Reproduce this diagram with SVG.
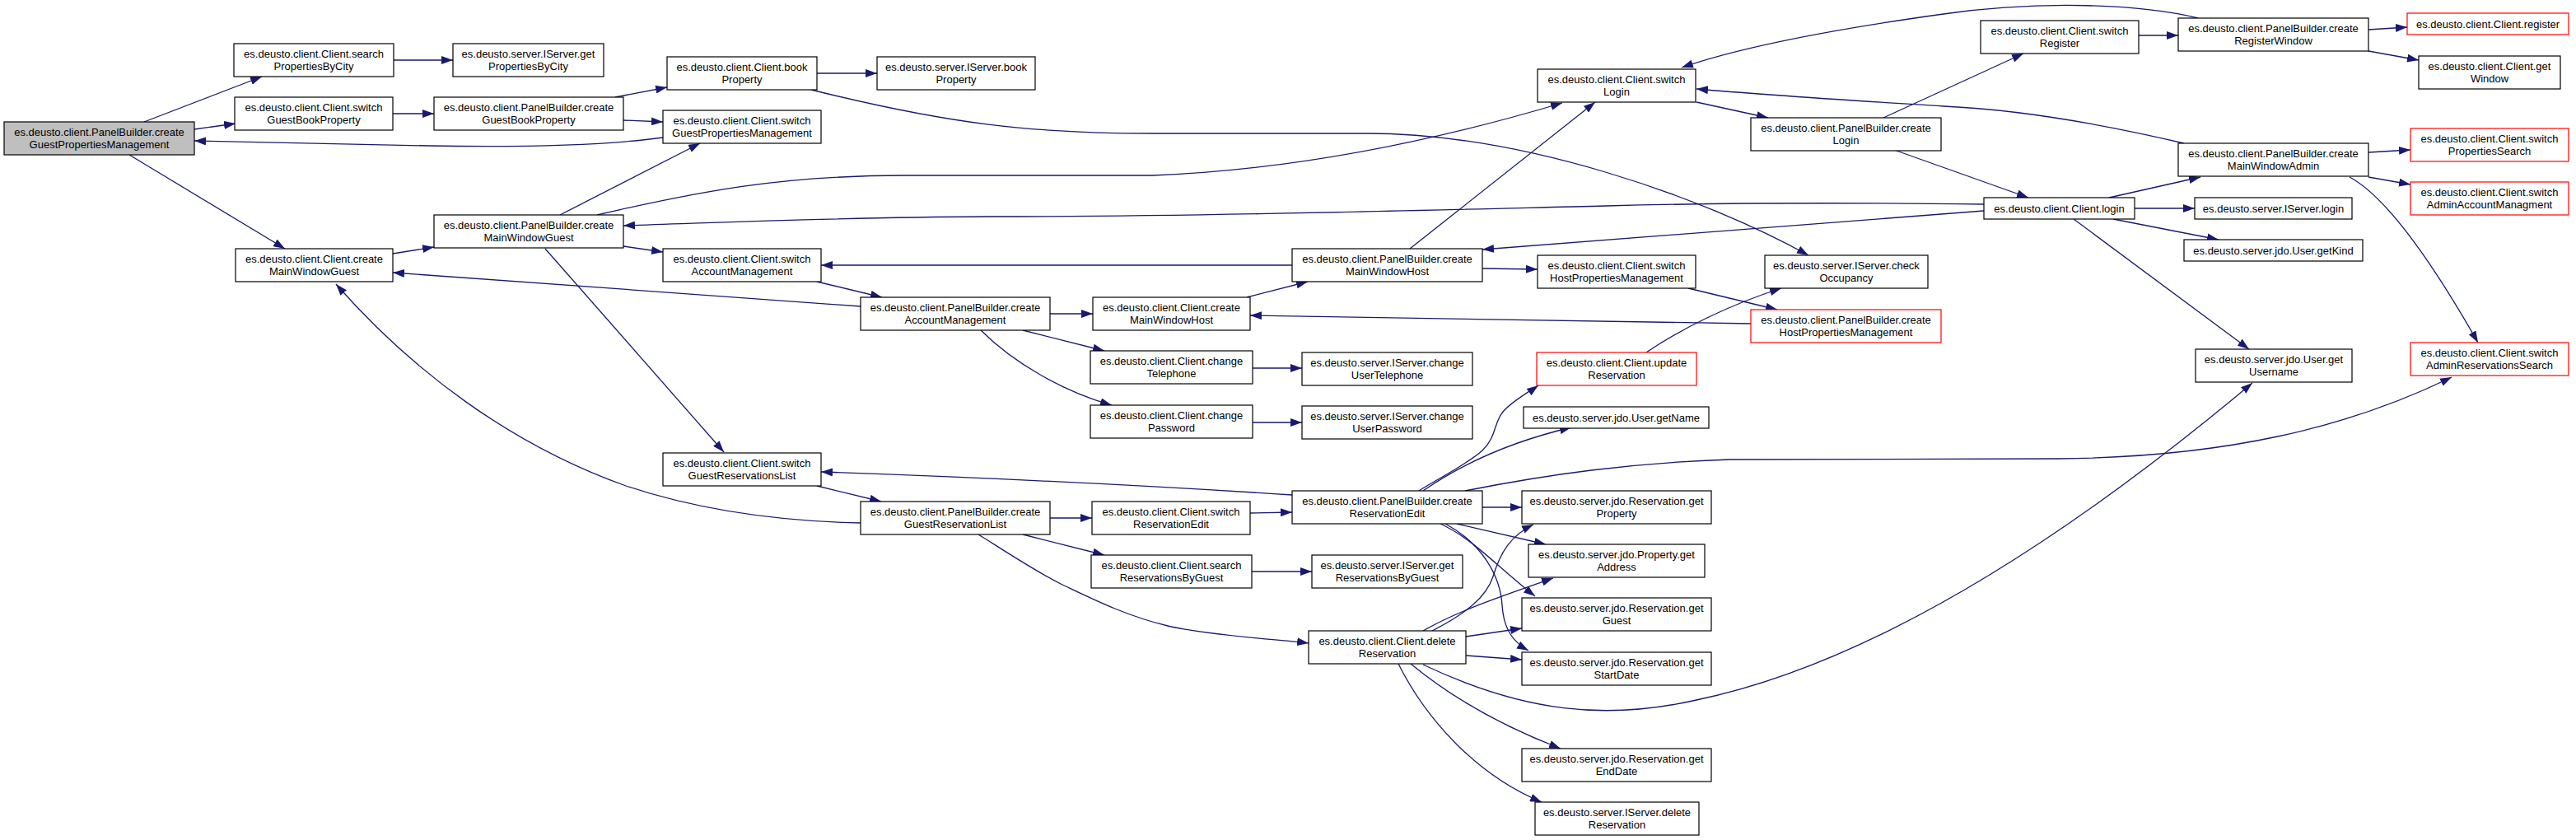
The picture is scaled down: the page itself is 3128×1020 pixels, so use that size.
<svg xmlns="http://www.w3.org/2000/svg" width="3128" height="1020" viewBox="0 0 3128 1020">
<defs>
<style>
.node rect{fill:#fff;stroke:#000;stroke-width:1.2}
.node.red rect{stroke:#ff0000}
.node.root rect{fill:#bfbfbf}
.node text{font-family:"Liberation Sans",Arial,sans-serif;font-size:13px;fill:#000;text-anchor:middle}
#edges path{fill:none;stroke:#191970;stroke-width:1.3;marker-end:url(#ah)}
</style>
<marker id="ah" markerUnits="userSpaceOnUse" markerWidth="14" markerHeight="10" refX="14" refY="5" orient="auto"><path d="M0,0 L14,5 L0,10 z" fill="#191970"/></marker>
</defs>
<rect width="3128" height="1020" fill="#fff"/>
<g id="edges">
<path d="M175,148 L318,93"/>
<path d="M236,157 L286,150"/>
<path d="M157,188 L346,302"/>
<path d="M805,167 C740,176 640,179 520,177 C400,175 300,173 236,171"/>
<path d="M478,73 L550,73"/>
<path d="M477,138 L527,138"/>
<path d="M747,118 L810,106"/>
<path d="M757,146 L805,148"/>
<path d="M992,89 L1065,89"/>
<path d="M985,109 C1150,150 1250,162 1400,162 L1660,162 C1850,162 2070,240 2196,310"/>
<path d="M477,308 L527,300"/>
<path d="M680,261 L850,174"/>
<path d="M725,261 C850,232 950,213 1100,213 L1400,213 C1600,205 1780,160 1897,125"/>
<path d="M2409,248 C2250,246 2100,246 1950,250 C1700,256 1450,263 1200,263 C1000,264 860,271 757,274"/>
<path d="M2409,256 L1800,303"/>
<path d="M757,299 L805,306"/>
<path d="M662,302 L879,549"/>
<path d="M1045,372 L477,331"/>
<path d="M1045,635 C950,633 850,620 760,590 C620,540 500,450 408,345"/>
<path d="M1569,322 L997,322"/>
<path d="M992,342 L1071,361"/>
<path d="M1275,381 L1327,381"/>
<path d="M1242,401 L1341,426"/>
<path d="M1191,401 C1230,440 1290,475 1350,492"/>
<path d="M1514,361 L1588,342"/>
<path d="M2126,393 C1900,390 1700,385 1518,383"/>
<path d="M1712,302 L1937,124"/>
<path d="M1800,326 L1867,327"/>
<path d="M2050,350 L2158,376"/>
<path d="M2060,124 L2147,143"/>
<path d="M2287,143 L2457,65"/>
<path d="M2300,182 L2463,240"/>
<path d="M2669,22 C2600,5 2480,0 2360,17 C2230,35 2120,55 2042,82"/>
<path d="M2652,174 C2550,150 2450,133 2360,129 C2250,122 2150,116 2060,108"/>
<path d="M2597,43 L2645,43"/>
<path d="M2876,36 L2923,33"/>
<path d="M2876,62 L2937,73"/>
<path d="M2561,240 L2672,215"/>
<path d="M2592,253 L2665,253"/>
<path d="M2566,266 L2694,291"/>
<path d="M2518,266 L2731,424"/>
<path d="M2876,185 L2927,182"/>
<path d="M2876,215 L2927,224"/>
<path d="M2853,215 C2900,240 2960,330 3009,416"/>
<path d="M1999,428 C2040,400 2100,370 2163,350"/>
<path d="M1521,447 L1581,447"/>
<path d="M1521,513 L1581,513"/>
<path d="M1569,601 C1400,590 1200,580 997,573"/>
<path d="M992,590 L1070,609"/>
<path d="M1275,629 L1326,629"/>
<path d="M1242,649 L1341,674"/>
<path d="M1188,649 C1205,659 1252,691 1290,710 C1328,728 1368,748 1418,760 C1468,772 1560,777 1589,781"/>
<path d="M1518,623 L1569,622"/>
<path d="M1520,694 L1593,694"/>
<path d="M1723,596 C1736,587 1783,563 1800,547 C1817,531 1814,513 1825,500 C1836,487 1861,473 1868,468"/>
<path d="M1728,596 C1780,560 1840,535 1908,519"/>
<path d="M1779,596 C1880,576 1980,562 2100,558 L2500,557 C2700,555 2850,520 2977,458"/>
<path d="M1800,616 L1848,616"/>
<path d="M1769,636 L1877,661"/>
<path d="M1749,636 C1790,655 1820,690 1864,724"/>
<path d="M1755,636 C1800,660 1822,700 1824,735 C1826,765 1838,780 1856,790"/>
<path d="M1739,766 C1780,745 1805,725 1813,700 C1822,670 1835,650 1862,637"/>
<path d="M1728,766 C1770,742 1820,725 1886,702"/>
<path d="M1780,773 L1848,763"/>
<path d="M1780,796 L1848,801"/>
<path d="M1728,807 C1850,865 1950,875 2060,850 C2300,800 2550,620 2735,465"/>
<path d="M1713,806 C1760,845 1820,880 1895,909"/>
<path d="M1698,806 C1730,870 1790,940 1872,974"/>
</g>
<g id="n0" class="node root"><rect x="5" y="148" width="231" height="40"/><text><tspan x="120.5" y="164.5">es.deusto.client.PanelBuilder.create</tspan><tspan x="120.5" y="179.5">GuestPropertiesManagement</tspan></text></g>
<g id="n1" class="node"><rect x="284" y="53" width="194" height="40"/><text><tspan x="381" y="69.5">es.deusto.client.Client.search</tspan><tspan x="381" y="84.5">PropertiesByCity</tspan></text></g>
<g id="n2" class="node"><rect x="550" y="53" width="183" height="40"/><text><tspan x="641.5" y="69.5">es.deusto.server.IServer.get</tspan><tspan x="641.5" y="84.5">PropertiesByCity</tspan></text></g>
<g id="n3" class="node"><rect x="285" y="118" width="192" height="40"/><text><tspan x="381" y="134.5">es.deusto.client.Client.switch</tspan><tspan x="381" y="149.5">GuestBookProperty</tspan></text></g>
<g id="n4" class="node"><rect x="527" y="118" width="230" height="40"/><text><tspan x="642" y="134.5">es.deusto.client.PanelBuilder.create</tspan><tspan x="642" y="149.5">GuestBookProperty</tspan></text></g>
<g id="n5" class="node"><rect x="810" y="69" width="182" height="40"/><text><tspan x="901" y="85.5">es.deusto.client.Client.book</tspan><tspan x="901" y="100.5">Property</tspan></text></g>
<g id="n6" class="node"><rect x="1065" y="69" width="192" height="40"/><text><tspan x="1161" y="85.5">es.deusto.server.IServer.book</tspan><tspan x="1161" y="100.5">Property</tspan></text></g>
<g id="n7" class="node"><rect x="805" y="134" width="192" height="40"/><text><tspan x="901" y="150.5">es.deusto.client.Client.switch</tspan><tspan x="901" y="165.5">GuestPropertiesManagement</tspan></text></g>
<g id="n8" class="node"><rect x="286" y="302" width="191" height="40"/><text><tspan x="381.5" y="318.5">es.deusto.client.Client.create</tspan><tspan x="381.5" y="333.5">MainWindowGuest</tspan></text></g>
<g id="n9" class="node"><rect x="527" y="261" width="230" height="40"/><text><tspan x="642" y="277.5">es.deusto.client.PanelBuilder.create</tspan><tspan x="642" y="292.5">MainWindowGuest</tspan></text></g>
<g id="n10" class="node"><rect x="805" y="302" width="192" height="40"/><text><tspan x="901" y="318.5">es.deusto.client.Client.switch</tspan><tspan x="901" y="333.5">AccountManagement</tspan></text></g>
<g id="n11" class="node"><rect x="805" y="550" width="192" height="40"/><text><tspan x="901" y="566.5">es.deusto.client.Client.switch</tspan><tspan x="901" y="581.5">GuestReservationsList</tspan></text></g>
<g id="n12" class="node"><rect x="1045" y="361" width="230" height="40"/><text><tspan x="1160" y="377.5">es.deusto.client.PanelBuilder.create</tspan><tspan x="1160" y="392.5">AccountManagement</tspan></text></g>
<g id="n13" class="node"><rect x="1327" y="361" width="191" height="40"/><text><tspan x="1422.5" y="377.5">es.deusto.client.Client.create</tspan><tspan x="1422.5" y="392.5">MainWindowHost</tspan></text></g>
<g id="n14" class="node"><rect x="1324" y="426" width="197" height="40"/><text><tspan x="1422.5" y="442.5">es.deusto.client.Client.change</tspan><tspan x="1422.5" y="457.5">Telephone</tspan></text></g>
<g id="n15" class="node"><rect x="1324" y="492" width="197" height="40"/><text><tspan x="1422.5" y="508.5">es.deusto.client.Client.change</tspan><tspan x="1422.5" y="523.5">Password</tspan></text></g>
<g id="n16" class="node"><rect x="1045" y="609" width="230" height="40"/><text><tspan x="1160" y="625.5">es.deusto.client.PanelBuilder.create</tspan><tspan x="1160" y="640.5">GuestReservationList</tspan></text></g>
<g id="n17" class="node"><rect x="1326" y="609" width="192" height="40"/><text><tspan x="1422" y="625.5">es.deusto.client.Client.switch</tspan><tspan x="1422" y="640.5">ReservationEdit</tspan></text></g>
<g id="n18" class="node"><rect x="1325" y="674" width="195" height="40"/><text><tspan x="1422.5" y="690.5">es.deusto.client.Client.search</tspan><tspan x="1422.5" y="705.5">ReservationsByGuest</tspan></text></g>
<g id="n19" class="node"><rect x="1569" y="302" width="231" height="40"/><text><tspan x="1684.5" y="318.5">es.deusto.client.PanelBuilder.create</tspan><tspan x="1684.5" y="333.5">MainWindowHost</tspan></text></g>
<g id="n20" class="node"><rect x="1867" y="84" width="192" height="40"/><text><tspan x="1963" y="100.5">es.deusto.client.Client.switch</tspan><tspan x="1963" y="115.5">Login</tspan></text></g>
<g id="n21" class="node"><rect x="2126" y="143" width="231" height="40"/><text><tspan x="2241.5" y="159.5">es.deusto.client.PanelBuilder.create</tspan><tspan x="2241.5" y="174.5">Login</tspan></text></g>
<g id="n22" class="node"><rect x="1867" y="310" width="192" height="40"/><text><tspan x="1963" y="326.5">es.deusto.client.Client.switch</tspan><tspan x="1963" y="341.5">HostPropertiesManagement</tspan></text></g>
<g id="n23" class="node"><rect x="2143" y="310" width="198" height="40"/><text><tspan x="2242" y="326.5">es.deusto.server.IServer.check</tspan><tspan x="2242" y="341.5">Occupancy</tspan></text></g>
<g id="n24" class="node red"><rect x="2126" y="376" width="231" height="40"/><text><tspan x="2241.5" y="392.5">es.deusto.client.PanelBuilder.create</tspan><tspan x="2241.5" y="407.5">HostPropertiesManagement</tspan></text></g>
<g id="n25" class="node"><rect x="1581" y="428" width="207" height="40"/><text><tspan x="1684.5" y="444.5">es.deusto.server.IServer.change</tspan><tspan x="1684.5" y="459.5">UserTelephone</tspan></text></g>
<g id="n26" class="node"><rect x="1581" y="493" width="207" height="40"/><text><tspan x="1684.5" y="509.5">es.deusto.server.IServer.change</tspan><tspan x="1684.5" y="524.5">UserPassword</tspan></text></g>
<g id="n27" class="node red"><rect x="1866" y="428" width="194" height="40"/><text><tspan x="1963" y="444.5">es.deusto.client.Client.update</tspan><tspan x="1963" y="459.5">Reservation</tspan></text></g>
<g id="n28" class="node"><rect x="1850" y="494" width="225" height="26"/><text><tspan x="1962.5" y="511.5">es.deusto.server.jdo.User.getName</tspan></text></g>
<g id="n29" class="node"><rect x="1569" y="596" width="231" height="40"/><text><tspan x="1684.5" y="612.5">es.deusto.client.PanelBuilder.create</tspan><tspan x="1684.5" y="627.5">ReservationEdit</tspan></text></g>
<g id="n30" class="node"><rect x="1848" y="596" width="230" height="40"/><text><tspan x="1963" y="612.5">es.deusto.server.jdo.Reservation.get</tspan><tspan x="1963" y="627.5">Property</tspan></text></g>
<g id="n31" class="node"><rect x="1856" y="661" width="214" height="40"/><text><tspan x="1963" y="677.5">es.deusto.server.jdo.Property.get</tspan><tspan x="1963" y="692.5">Address</tspan></text></g>
<g id="n32" class="node"><rect x="1593" y="674" width="183" height="40"/><text><tspan x="1684.5" y="690.5">es.deusto.server.IServer.get</tspan><tspan x="1684.5" y="705.5">ReservationsByGuest</tspan></text></g>
<g id="n33" class="node"><rect x="1589" y="766" width="191" height="40"/><text><tspan x="1684.5" y="782.5">es.deusto.client.Client.delete</tspan><tspan x="1684.5" y="797.5">Reservation</tspan></text></g>
<g id="n34" class="node"><rect x="1848" y="726" width="230" height="40"/><text><tspan x="1963" y="742.5">es.deusto.server.jdo.Reservation.get</tspan><tspan x="1963" y="757.5">Guest</tspan></text></g>
<g id="n35" class="node"><rect x="1848" y="792" width="230" height="40"/><text><tspan x="1963" y="808.5">es.deusto.server.jdo.Reservation.get</tspan><tspan x="1963" y="823.5">StartDate</tspan></text></g>
<g id="n36" class="node"><rect x="1848" y="909" width="230" height="40"/><text><tspan x="1963" y="925.5">es.deusto.server.jdo.Reservation.get</tspan><tspan x="1963" y="940.5">EndDate</tspan></text></g>
<g id="n37" class="node"><rect x="1864" y="974" width="199" height="40"/><text><tspan x="1963.5" y="990.5">es.deusto.server.IServer.delete</tspan><tspan x="1963.5" y="1005.5">Reservation</tspan></text></g>
<g id="n38" class="node"><rect x="2405" y="25" width="192" height="40"/><text><tspan x="2501" y="41.5">es.deusto.client.Client.switch</tspan><tspan x="2501" y="56.5">Register</tspan></text></g>
<g id="n39" class="node"><rect x="2645" y="22" width="231" height="40"/><text><tspan x="2760.5" y="38.5">es.deusto.client.PanelBuilder.create</tspan><tspan x="2760.5" y="53.5">RegisterWindow</tspan></text></g>
<g id="n40" class="node red"><rect x="2923" y="16" width="196" height="26"/><text><tspan x="3021" y="33.5">es.deusto.client.Client.register</tspan></text></g>
<g id="n41" class="node"><rect x="2937" y="68" width="172" height="40"/><text><tspan x="3023" y="84.5">es.deusto.client.Client.get</tspan><tspan x="3023" y="99.5">Window</tspan></text></g>
<g id="n42" class="node"><rect x="2645" y="174" width="231" height="40"/><text><tspan x="2760.5" y="190.5">es.deusto.client.PanelBuilder.create</tspan><tspan x="2760.5" y="205.5">MainWindowAdmin</tspan></text></g>
<g id="n43" class="node red"><rect x="2927" y="156" width="192" height="40"/><text><tspan x="3023" y="172.5">es.deusto.client.Client.switch</tspan><tspan x="3023" y="187.5">PropertiesSearch</tspan></text></g>
<g id="n44" class="node red"><rect x="2927" y="221" width="192" height="40"/><text><tspan x="3023" y="237.5">es.deusto.client.Client.switch</tspan><tspan x="3023" y="252.5">AdminAccountManagment</tspan></text></g>
<g id="n45" class="node"><rect x="2409" y="240" width="183" height="26"/><text><tspan x="2500.5" y="257.5">es.deusto.client.Client.login</tspan></text></g>
<g id="n46" class="node"><rect x="2665" y="240" width="191" height="26"/><text><tspan x="2760.5" y="257.5">es.deusto.server.IServer.login</tspan></text></g>
<g id="n47" class="node"><rect x="2652" y="291" width="217" height="26"/><text><tspan x="2760.5" y="308.5">es.deusto.server.jdo.User.getKind</tspan></text></g>
<g id="n48" class="node"><rect x="2666" y="424" width="190" height="40"/><text><tspan x="2761" y="440.5">es.deusto.server.jdo.User.get</tspan><tspan x="2761" y="455.5">Username</tspan></text></g>
<g id="n49" class="node red"><rect x="2927" y="416" width="192" height="40"/><text><tspan x="3023" y="432.5">es.deusto.client.Client.switch</tspan><tspan x="3023" y="447.5">AdminReservationsSearch</tspan></text></g>
</svg>
